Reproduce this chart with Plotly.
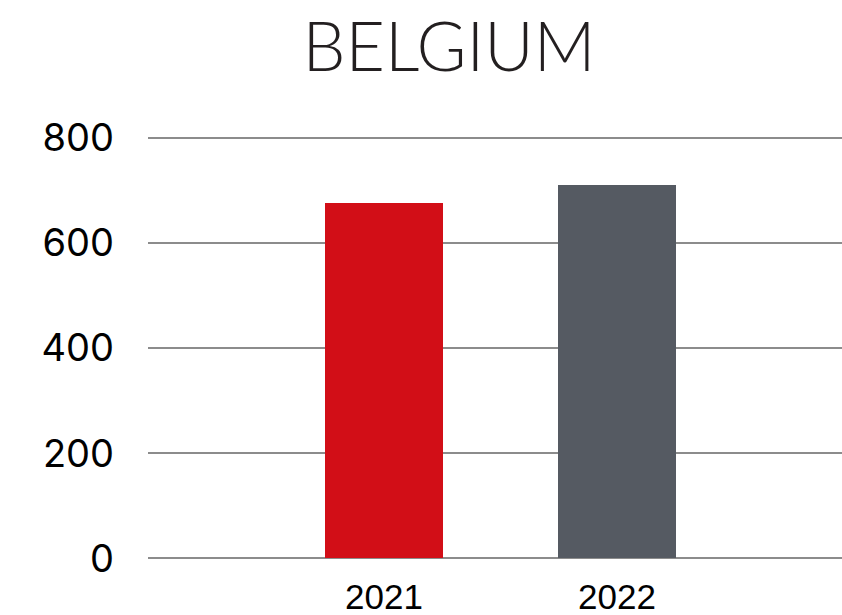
import plotly.graph_objects as go

# Annual totals for Belgium
years = ["2021", "2022"]
values = [675, 710]
bar_colors = ["#D20E17", "#555A62"]
y_ticks = [0, 200, 400, 600, 800]

fig = go.Figure(
    go.Bar(
        x=years,
        y=values,
        marker=dict(color=bar_colors, line=dict(width=0)),
        width=0.506,
        showlegend=False,
    )
)

W, H = 842, 615
px_per_unit = 420.3 / 800
pad_units = 3  # small headroom so the 0 and 800 gridlines are drawn
pad_px = pad_units * px_per_unit
left, right = 148, 0
top, bottom = 137.7 - pad_px, 57 - pad_px

fig.update_layout(
    width=W,
    height=H,
    margin=dict(l=left, r=right, t=top, b=bottom, pad=0),
    paper_bgcolor="white",
    plot_bgcolor="white",
    title=dict(
        text="BELGIUM",
        font=dict(family="Lato", size=68, color="#231F20", weight=300),
        x=449 / W,
        xanchor="center",
        xref="container",
        y=1 - 47 / H,
        yanchor="middle",
        yref="container",
    ),
    xaxis=dict(
        type="category",
        range=[-1.013, 1.966],
        showgrid=False,
        zeroline=False,
        showline=False,
        ticks="",
        ticklabelstandoff=int(round(15 - pad_px)),
        tickfont=dict(family="Liberation Sans", size=35, color="black"),
    ),
    yaxis=dict(
        range=[-pad_units, 800 + pad_units],
        tickvals=y_ticks,
        showgrid=True,
        gridcolor="#8C8C8C",
        gridwidth=2,
        zeroline=False,
        showline=False,
        ticks="",
        ticklabelstandoff=33,
        tickfont=dict(family="Inter", size=38, color="black"),
    ),
    bargap=0,
)

fig.write_html("out.html")
